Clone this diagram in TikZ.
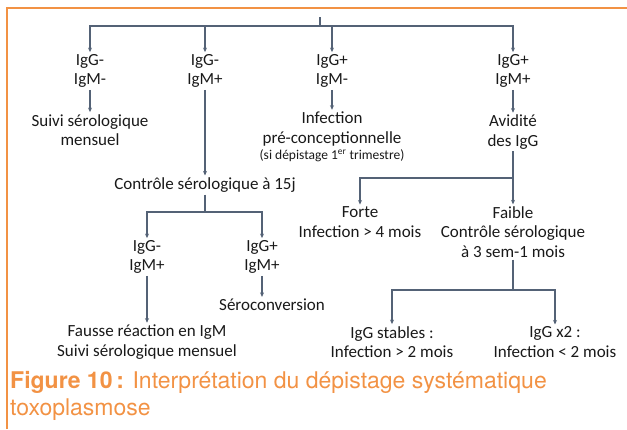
\documentclass[tikz,border=0pt]{standalone}
\usepackage{fontspec}
\setmainfont{Carlito}
\newfontfamily\capfont{TeX Gyre Heros}
\usetikzlibrary{arrows.meta}
\definecolor{linegray}{RGB}{84,98,118}
\definecolor{figorange}{RGB}{242,146,68}

\begin{document}
\begin{tikzpicture}[x=1pt,y=-1pt,
    lbl/.style={align=center,inner sep=2pt,text=black!90,
      font=\fontsize{17}{19.5}\selectfont},
    conn/.style={draw=linegray,line width=1.6pt},
    arr/.style={conn,-{Stealth[length=4.5pt,width=4pt]}}]
  \useasboundingbox (0,0) rectangle (627,429);

  % cadre
  \draw[figorange,line width=1.2pt] (7,429) -- (7,8) -- (627,8);

  % premier niveau
  \coordinate (top) at (320,17);
  \coordinate (bar) at (320,26);
  \node[lbl] (gmm) at (90,71) {IgG-\\IgM-};
  \node[lbl] (gmp) at (205,71) {IgG-\\IgM+};
  \node[lbl] (gpm) at (332,71) {IgG+\\IgM-};
  \node[lbl] (gpp) at (513,71) {IgG+\\IgM+};
  \draw[conn] (top) -- (bar);
  \foreach \n in {gmm,gmp,gpm,gpp} \draw[arr] (bar) -| (\n);

  \node[lbl] (suivi) at (90,130) {Suivi sérologique\\mensuel};
  \node[lbl] (ctrl) at (205,185) {Contrôle sérologique à 15j};
  \node[lbl] (infpre) at (332,137) {Infection\\pré-conceptionnelle\\[-3pt]
    {\fontsize{13.5}{15}\selectfont (si dépistage 1\textsuperscript{er} trimestre)}};
  \node[lbl] (avid) at (513,132) {Avidité\\des IgG};
  \draw[arr] (gmm) -- (suivi);
  \draw[arr] (gmp) -- (ctrl);
  \draw[arr] (gpm) -- (infpre);
  \draw[arr] (gpp) -- (avid);

  % branche IgG- IgM+
  \coordinate (j3) at (205,212);
  \node[lbl] (gmp2) at (147,257) {IgG-\\IgM+};
  \node[lbl] (gpp2) at (262,257) {IgG+\\IgM+};
  \draw[conn] (ctrl) -- (j3);
  \foreach \n in {gmp2,gpp2} \draw[arr] (j3) -| (\n);
  \node[lbl] (fausse) at (147,342) {Fausse réaction en IgM\\Suivi sérologique mensuel};
  \node[lbl] (sero) at (272,305) {Séroconversion};
  \draw[arr] (gmp2) -- (fausse);
  \draw[arr] (gpp2) -- (gpp2 |- sero.north);

  % branche avidite
  \coordinate (j1) at (513,178);
  \node[lbl] (forte) at (360,222) {Forte\\Infection > 4 mois};
  \node[lbl] (faible) at (513,232) {Faible\\Contrôle sérologique\\à 3 sem-1 mois};
  \draw[conn] (avid) -- (j1);
  \foreach \n in {forte,faible} \draw[arr] (j1) -| (\n);

  \coordinate (j2) at (513,290);
  \node[lbl] (stab) at (392,342) {IgG stables :\\Infection > 2 mois};
  \node[lbl] (x2) at (555,342) {IgG x2 :\\Infection < 2 mois};
  \draw[conn] (faible) -- (j2);
  \foreach \n in {stab,x2} \draw[arr] (j2) -| (\n);

  % legende
  \node[anchor=north west,align=left,inner sep=0pt,text=figorange,
    font=\capfont\fontsize{23}{27}\selectfont] (cap) at (10,371)
    {{\bfseries Figure 10\,:} Interprétation du dépistage systématique\\toxoplasmose};
\end{tikzpicture}
\end{document}
